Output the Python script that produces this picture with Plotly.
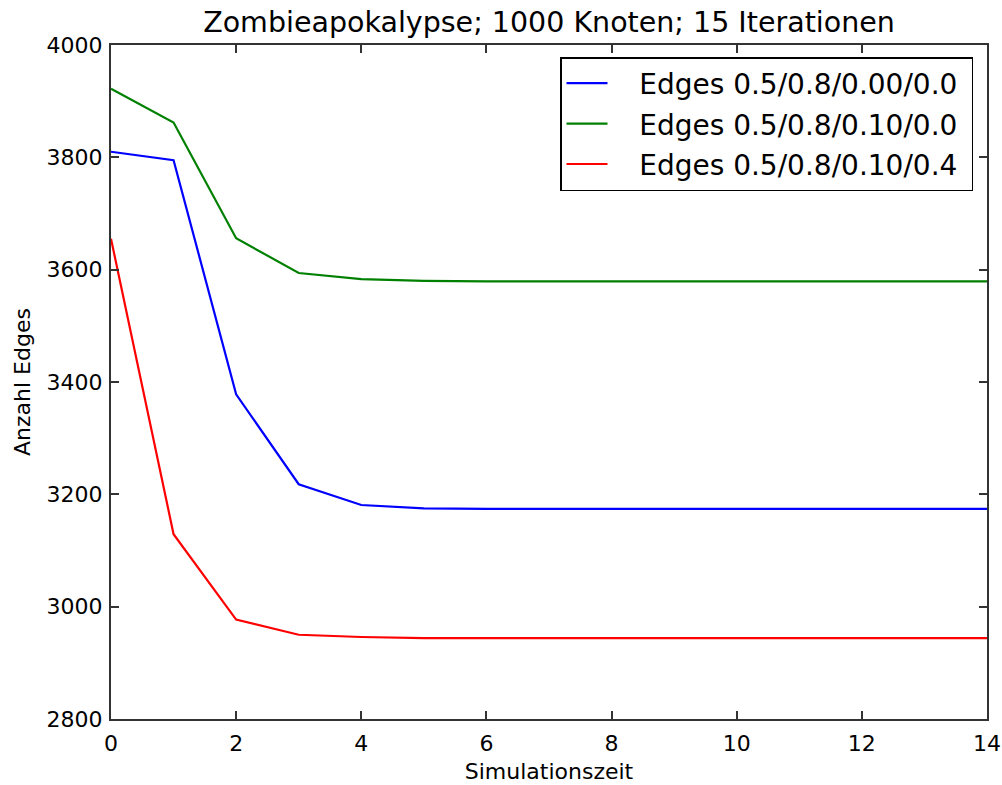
import plotly.graph_objects as go

zeit = list(range(15))
edges_a = [3810, 3795, 3378, 3218, 3181, 3175, 3174, 3174, 3174, 3174, 3174, 3174, 3174, 3174, 3174]
edges_b = [3922, 3862, 3656, 3594, 3583, 3580, 3579, 3579, 3579, 3579, 3579, 3579, 3579, 3579, 3579]
edges_c = [3655, 3129, 2977, 2950, 2946, 2944, 2944, 2944, 2944, 2944, 2944, 2944, 2944, 2944, 2944]
names = ["Edges 0.5/0.8/0.00/0.0", "Edges 0.5/0.8/0.10/0.0", "Edges 0.5/0.8/0.10/0.4"]
colors = ["#0000ff", "#008000", "#ff0000"]
x_ticks = [0, 2, 4, 6, 8, 10, 12, 14]
y_ticks = [2800, 3000, 3200, 3400, 3600, 3800, 4000]

FONT = "DejaVu Sans"
fig = go.Figure()
for i, (ys, nm, c) in enumerate(zip([edges_a, edges_b, edges_c], names, colors)):
    fig.add_trace(go.Scatter(x=zeit, y=ys, mode="lines", name="\u00a0\u00a0\u00a0" + nm + "\u00a0",
                             line=dict(color=c, width=2.2), legendgroup=str(i)))

axis_common = dict(showgrid=False, zeroline=False, showline=True, linecolor="#333333", linewidth=2,
                   mirror="ticks", ticks="inside", ticklen=8, tickwidth=1.5, tickcolor="#333333",
                   automargin=False,
                   tickfont=dict(family=FONT, size=22, color="#000000"))
fig.update_xaxes(range=[0, 14], tickvals=x_ticks, ticktext=[str(v) for v in x_ticks],
                 title=dict(text="Simulationszeit", font=dict(family=FONT, size=22, color="#000"), standoff=8),
                 ticklabelstandoff=4, **axis_common)
fig.update_yaxes(range=[2800, 4000], tickvals=y_ticks, ticktext=[str(v) for v in y_ticks],
                 title=dict(text="Anzahl Edges", font=dict(family=FONT, size=22, color="#000"), standoff=10),
                 ticklabelstandoff=2, **axis_common)

fig.update_layout(
    width=1002, height=785,
    margin=dict(l=111, r=15, t=45, b=66),
    paper_bgcolor="white", plot_bgcolor="white",
    title=dict(text="Zombieapokalypse; 1000 Knoten; 15 Iterationen", x=0.5, xref="paper",
               y=1 - 22 / 785, yanchor="middle", font=dict(family=FONT, size=28.5, color="#000")),
    legend=dict(x=(973 - 111) / 876, y=(719 - 57) / 674, xanchor="right", yanchor="top",
                bordercolor="#000", borderwidth=1.5,
                bgcolor="white", font=dict(family=FONT, size=28, color="#000"), itemwidth=41,
                traceorder="grouped", tracegroupgap=1),
    showlegend=True,
)
fig.write_html("out.html", config={"displayModeBar": False},
               post_script="document.body.style.margin='0';document.body.style.overflow='hidden';")
